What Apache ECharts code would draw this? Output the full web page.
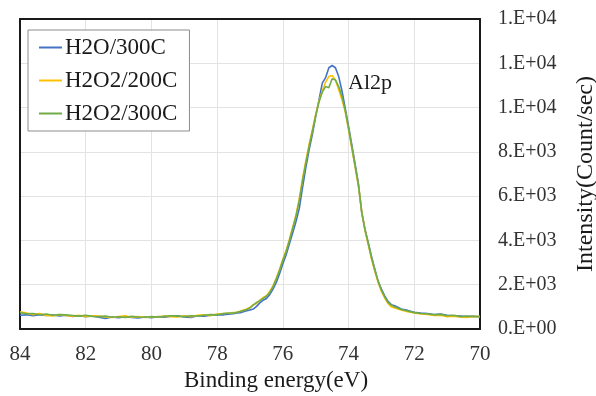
<!DOCTYPE html>
<html>
<head>
<meta charset="utf-8">
<script src="https://cdn.jsdelivr.net/npm/echarts@6/dist/echarts.min.js"></script>
<style>html,body{margin:0;padding:0;background:#fff;}#c{width:596px;height:396px;}</style>
</head>
<body>
<div id="c"></div>
<script>
const energy = [84.0,83.8,83.6,83.4,83.2,83.0,82.8,82.6,82.4,82.2,82.0,81.8,81.6,81.4,81.2,81.0,80.8,80.6,80.4,80.2,80.0,79.8,79.6,79.4,79.2,79.0,78.8,78.6,78.4,78.2,78.0,77.8,77.6,
77.5,77.4,77.3,77.2,77.1,77.0,76.9,76.8,76.7,76.6,76.5,76.4,76.3,76.2,76.1,76.0,75.9,75.8,75.7,75.6,75.5,75.4,75.3,75.2,75.1,75.0,74.9,74.8,74.7,74.6,74.5,74.4,74.3,74.2,74.1,74.0,73.9,73.8,73.7,73.6,73.5,73.4,73.3,73.2,73.1,73.0,72.9,72.8,72.7,72.6,72.5,
72.4,72.2,72.0,71.8,71.6,71.4,71.2,71.0,70.8,70.6,70.4,70.2,70.0];

const h2o300 = [620,640,600,650,610,630,590,620,570,600,560,590,530,480,540,510,560,520,500,540,510,560,530,580,600,540,520,600,580,620,650,640,680,
690,720,740,780,820,860,900,1020,1180,1300,1380,1550,1800,2100,2500,2950,3350,3850,4350,4850,5450,6400,7300,8100,8800,9600,10350,11100,11350,11800,11900,11800,11400,10750,9950,9150,8300,7450,6550,5250,4500,3900,3270,2700,2150,1800,1500,1250,1100,1050,980,
900,840,760,720,700,650,680,620,600,580,560,590,540];

const h2o2_200 = [780,720,650,700,610,590,650,610,580,620,560,600,580,540,520,560,600,530,560,520,540,550,580,560,540,600,560,620,640,600,680,700,720,
740,760,800,860,900,980,1100,1150,1300,1420,1500,1700,1950,2300,2700,3150,3550,4050,4600,5150,5900,6800,7600,8350,9000,9700,10300,10750,11150,11400,11450,11250,10800,10350,9800,9000,8150,7300,6450,5300,4450,3800,3150,2600,2100,1700,1400,1150,1000,950,900,
860,780,720,680,660,610,620,560,580,540,520,570,560];

const h2o2_300 = [740,690,700,640,680,620,650,640,610,580,620,570,560,580,530,550,520,570,540,530,560,540,570,600,580,560,600,580,620,650,640,700,720,
720,750,790,830,880,950,1080,1200,1280,1380,1480,1650,1900,2250,2650,3100,3500,4000,4550,5100,5800,6700,7500,8250,8950,9650,10250,10700,10950,10900,11300,11250,10950,10500,9850,9050,8200,7350,6500,5300,4480,3850,3200,2650,2150,1750,1450,1200,1080,1000,950,
880,810,740,700,680,640,660,600,620,560,580,550,570];

const seriesNames = ['H2O/300C','H2O2/200C','H2O2/300C'];
const seriesColors = ['#4472C4','#FFC000','#70AD47'];
const seriesValues = [h2o300, h2o2_200, h2o2_300];

const FONT = '"Liberation Serif","Times New Roman",serif';

function sci(v){
  if (v === 0) return '0.E+00';
  const s = v.toExponential(0);
  const m = s.split('e');
  const exp = parseInt(m[1],10);
  const sign = exp < 0 ? '-' : '+';
  const e = Math.abs(exp);
  return m[0] + '.E' + sign + (e < 10 ? '0' + e : e);
}

const frameLine = {show:true,onZero:false,lineStyle:{color:'#1a1a1a',width:2}};
const chart = echarts.init(document.getElementById('c'), null, {renderer:'canvas'});
chart.setOption({
  animation:false,
  backgroundColor:'#fff',
  grid:{left:20,right:116,top:19,bottom:67,containLabel:false,outerBoundsMode:'none'},
  legend:{
    orient:'vertical',left:28,top:30,
    data:seriesNames,
    icon:'rect',
    itemWidth:23,itemHeight:2,itemGap:10,
    padding:[6,12,6,11],
    borderColor:'#8c8c8c',borderWidth:1,
    backgroundColor:'#fff',
    textStyle:{fontFamily:FONT,fontSize:23,color:'#1a1a1a',lineHeight:23,padding:[0,0,0,-2]}
  },
  xAxis:[{
    type:'value',min:70,max:84,interval:2,inverse:true,position:'bottom',
    name:'Binding energy(eV)',nameLocation:'middle',nameGap:40,
    nameTextStyle:{fontFamily:FONT,fontSize:23,color:'#1a1a1a',padding:[0,0,0,52]},
    axisLine:frameLine,axisTick:{show:false},
    axisLabel:{fontFamily:FONT,fontSize:21,color:'#333',margin:15},
    splitLine:{show:true,lineStyle:{color:'#e3e3e3',width:1}}
  },{
    type:'value',min:70,max:84,interval:2,inverse:true,position:'top',
    axisLine:frameLine,axisTick:{show:false},axisLabel:{show:false},splitLine:{show:false}
  }],
  yAxis:[{
    type:'value',position:'right',min:0,max:14000,interval:2000,
    name:'Intensity(Count/sec)',nameLocation:'middle',nameGap:94,nameRotate:90,
    nameTextStyle:{fontFamily:FONT,fontSize:24,color:'#1a1a1a'},
    axisLine:frameLine,axisTick:{show:false},
    axisLabel:{fontFamily:FONT,fontSize:20,color:'#333',margin:18,formatter:sci},
    splitLine:{show:true,lineStyle:{color:'#e3e3e3',width:1}}
  },{
    type:'value',position:'left',min:0,max:14000,interval:2000,
    axisLine:frameLine,axisTick:{show:false},axisLabel:{show:false},splitLine:{show:false}
  }],
  graphic:[{
    type:'text',left:348,top:72,
    style:{text:'Al2p',font:'22px "Liberation Serif","Times New Roman",serif',fill:'#1a1a1a'}
  }],
  series: seriesNames.map((n,i)=>({
    name:n,type:'line',symbol:'none',
    data: energy.map((e,j)=>[e, seriesValues[i][j]]),
    lineStyle:{color:seriesColors[i],width:1.6},
    itemStyle:{color:seriesColors[i]}
  }))
});
</script>
</body>
</html>
